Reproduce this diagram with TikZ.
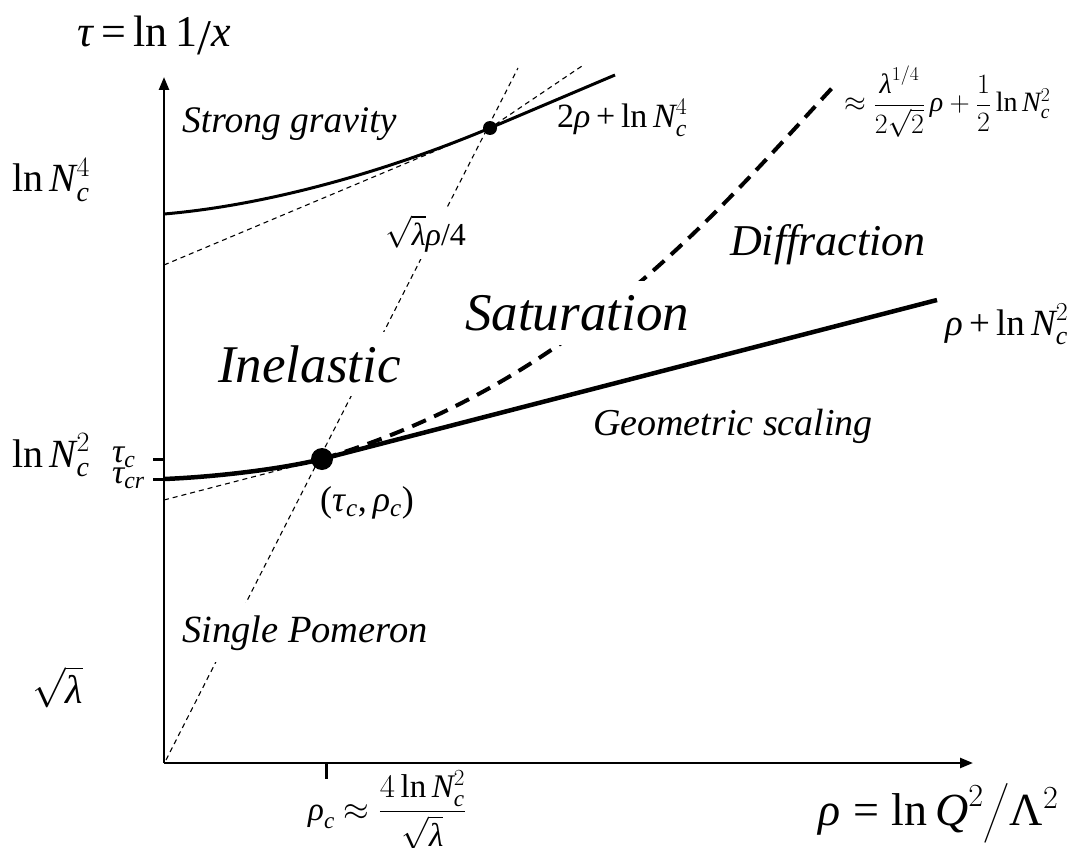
\RequirePackage{fix-cm}
\documentclass[tikz,border=0pt]{standalone}
\usepackage{amsmath}
\usepackage{fontspec}
\setmainfont{Liberation Serif}
\usetikzlibrary{arrows.meta}
\newcommand\mi[1]{\textit{#1}}
\newcommand\fs[1]{\fontsize{#1}{#1}\selectfont}
\tikzset{
  lbl/.style={inner sep=0pt, anchor=base west},
  axisline/.style={line width=2.4pt, -{Triangle[length=13pt,width=10pt]}},
  lowline/.style={line width=4.5pt},
  upline/.style={line width=3pt},
  thickdash/.style={line width=4pt, dash pattern=on 15pt off 9pt},
  thindash/.style={line width=1.1pt, dash pattern=on 5pt off 4pt},
  tickmark/.style={line width=3pt},
  dot/.style={circle, fill=black, inner sep=0pt},
  cover/.style={lbl, fill=white, inner xsep=0pt}
}
\begin{document}
\begin{tikzpicture}[x=1pt,y=-1pt]
\useasboundingbox (0,0) rectangle (1090,848);
% coordinates
\coordinate (O) at (164,763);
\coordinate (Yt) at (164,77);
\coordinate (Xt) at (973,763);
\coordinate (L0) at (164,479);
\coordinate (Lend) at (937,300);
\coordinate (U0) at (164,214);
\coordinate (Uend) at (615,75);
\coordinate (T0) at (164,500);
\coordinate (T1) at (164,265);
\coordinate (T1end) at (582,66);
\coordinate (S0) at (166,760);
\coordinate (S1) at (518,68);
\coordinate (D1) at (833,87);
\coordinate (tkr) at (326,763);
\coordinate (tkrb) at (326,779);
\coordinate (tkc) at (164,459);
\coordinate (tkcl) at (153,459);
\coordinate (tkcr) at (164,479);
\coordinate (tkcrl) at (153,479);
% dots
\node[dot, minimum size=22pt] (P) at (322,459) {};
\node[dot, minimum size=14pt] (Q) at (490,128) {};
% axes
\draw[axisline] (O) -- (Yt);
\draw[axisline] (O) -- (Xt);
% ticks
\draw[tickmark] (tkr) -- (tkrb);
\draw[tickmark] (tkcl) -- (tkc);
\draw[tickmark] (tkcrl) -- (tkcr);
% thin dashed lines
\draw[thindash] (T0) -- (P.center);
\draw[thindash] (T1) -- (Q.center) -- (T1end);
\draw[thindash] (S0) -- (S1);
% curves
\draw[lowline] (L0) .. controls (215,477) and (282,469) .. (P.center) -- (Lend);
\draw[upline] (U0) .. controls (270,205) and (390,170) .. (Q.center) -- (Uend);
\draw[thickdash] (P.center) .. controls (572,384) and (713,217) .. (D1);
% labels
\node[lbl, font=\fs{44}] (tau) at (77,47) {\mi{τ}\,=\,ln\,1\raisebox{-8pt}{\fs{50}/}\mi{x}};
\node[lbl, font=\fs{37.5}] (sg) at (182,133) {\mi{Strong gravity}};
\node[lbl, font=\fs{40}] (lnN4) at (12,192) {ln\,$\mi{N}_{\mi{c}}^{4}$};
\node[lbl, font=\fs{40}] (lnN2) at (12,467) {ln\,$\mi{N}_{\mi{c}}^{2}$};
\node[lbl, font=\fs{34}] (tc) at (112,462) {$\mi{τ}_{\mi{c}}$};
\node[lbl, font=\fs{34}] (tcr) at (112,483) {$\mi{τ}_{\mi{cr}}$};
\node[lbl, font=\fs{36}] (pt) at (320,511) {(\mi{τ}$_{\mi{c}}$,\,\mi{ρ}$_{\mi{c}}$)};
\node[cover, inner ysep=13pt, font=\fs{53}] (inel) at (218,382) {\mi{Inelastic}};
\node[cover, inner ysep=14pt, font=\fs{53}] (sat) at (465,330) {\mi{Saturation}};
\node[lbl, font=\fs{44}] (diff) at (730,255) {\mi{Diffraction}};
\node[lbl, font=\fs{38}] (geo) at (593,435) {\mi{Geometric scaling}};
\node[cover, inner ysep=12pt, font=\fs{38.5}] (sp) at (182,642) {\mi{Single Pomeron}};
\node[lbl, font=\fs{40}] (sl) at (32,703) {$\sqrt{\mi{λ}}$};
\node[anchor=west, inner sep=0pt, font=\fs{33}] (rc) at (308,810) {$\mi{ρ}_{\mi{c}}\approx\dfrac{4\ln\mi{N}_{\mi{c}}^{2}}{\sqrt{\mi{λ}}}$};
\node[lbl, font=\fs{46}] (rho) at (818,825) {\mi{ρ}\;=\;ln\,$\mi{Q}^{2}\big/$Λ$^{2}$};
\node[lbl, font=\fs{37}] (r2) at (945,335) {\mi{ρ}\,+\,ln\,$\mi{N}_{\mi{c}}^{2}$};
\node[lbl, font=\fs{34}] (r4) at (557,128) {2\mi{ρ}\,+\,ln\,$\mi{N}_{\mi{c}}^{4}$};
\node[cover, inner ysep=7pt, font=\fs{32}] (sr) at (385,245) {$\sqrt{\mi{λ}}$\mi{ρ}/4};
\node[lbl, font=\fs{28}] (lf) at (844,112) {$\approx\dfrac{\mi{λ}^{1/4}}{2\sqrt{2}}\,\mi{ρ}+\dfrac{1}{2}\ln\mi{N}_{\mi{c}}^{2}$};
\end{tikzpicture}
\end{document}
